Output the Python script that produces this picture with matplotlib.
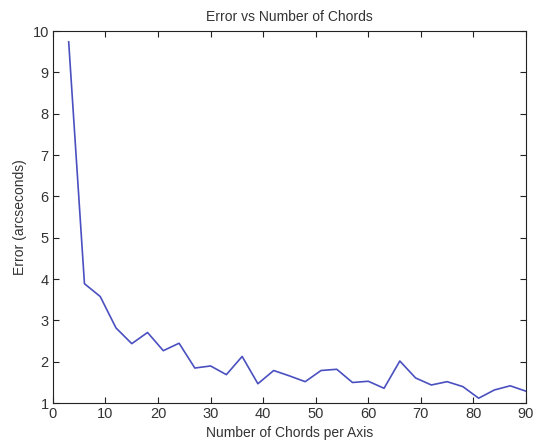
import matplotlib
matplotlib.use("Agg")
import matplotlib.pyplot as plt

# chords per axis vs error
chords = [3, 6, 9, 12, 15, 18, 21, 24, 27, 30, 33, 36, 39, 42, 45,
          48, 51, 54, 57, 60, 63, 66, 69, 72, 75, 78, 81, 84, 87, 90]
error_arcsec = [9.74, 3.89, 3.58, 2.82, 2.44, 2.71, 2.27, 2.45, 1.85, 1.90,
                1.69, 2.13, 1.47, 1.79, 1.66, 1.52, 1.79, 1.82, 1.50, 1.53,
                1.36, 2.02, 1.61, 1.44, 1.52, 1.40, 1.12, 1.32, 1.42, 1.29]

x_ticks = list(range(0, 91, 10))
y_ticks = list(range(1, 11))

plt.rcParams["font.family"] = ["Liberation Sans", "DejaVu Sans"]
text_color = "#333333"

fig = plt.figure(figsize=(5.4, 4.45), dpi=100)
ax = fig.add_axes([0.098, 0.094, 0.876, 0.836])

ax.plot(chords, error_arcsec, color="#4a50c0", linewidth=1.2)

ax.set_xlim(0, 90)
ax.set_ylim(1, 10)
ax.set_xticks(x_ticks)
ax.set_yticks(y_ticks)
ax.tick_params(direction="in", top=True, right=True, length=4, width=0.8,
               labelsize=10.5, colors="#222222", labelcolor=text_color, pad=3)
for spine in ax.spines.values():
    spine.set_linewidth(0.8)
    spine.set_color("#222222")

ax.set_title("Error vs Number of Chords", fontsize=10, color=text_color, pad=7)
ax.set_xlabel("Number of Chords per Axis", fontsize=10, color=text_color, labelpad=3)
ax.set_ylabel("Error (arcseconds)", fontsize=10, color=text_color, labelpad=4)

fig.savefig("out.png", dpi=100)
